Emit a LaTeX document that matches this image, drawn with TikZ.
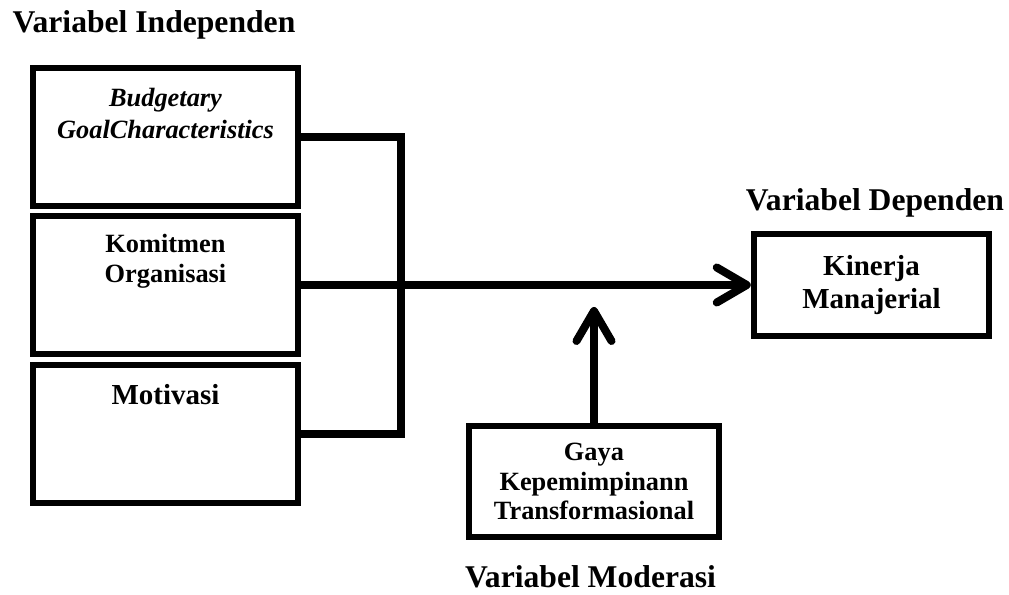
\documentclass[tikz,border=0pt]{standalone}
\usepackage{fontspec}
\setmainfont{Liberation Serif}
\usetikzlibrary{arrows.meta,positioning}

\begin{document}
\begin{tikzpicture}[
    kotak/.style={draw, line width=1.3mm, minimum width=5.3cm, minimum height=2.76cm, inner sep=0pt},
    isi/.style={align=center, inner sep=0pt, font=\fontsize{15}{17}\selectfont\bfseries},
    judul/.style={anchor=base, inner sep=0pt, font=\fontsize{18}{21}\selectfont\bfseries},
    kurung/.style={line width=1.6mm},
    panah/.style={line width=1.6mm, -{Straight Barb[length=6mm,width=7mm,round]}}
]
    \useasboundingbox (0,0) rectangle (20.18,11.9);

    % variabel independen
    \node[judul] (judulX) at (3.08,11.24) {Variabel Independen};
    \node[kotak] (x1) at (3.31,9.16) {};
    \node[kotak] (x2) at (3.31,6.2) {};
    \node[kotak] (x3) at (3.31,3.22) {};
    \node[isi, font=\fontsize{15}{18.2}\selectfont\bfseries\itshape, below=0.47cm of x1.north] (tx1) {Budgetary\\GoalCharacteristics};
    \node[isi, below=0.42cm of x2.north] (tx2) {Komitmen\\Organisasi};
    \node[isi, font=\fontsize{16.5}{19}\selectfont\bfseries, below=0.44cm of x3.north] (tx3) {Motivasi};

    % kurung
    \coordinate (kurung) at (8.02,6.2);
    \draw[kurung] (x1.east) -- (x1.east -| kurung) -- (x3.east -| kurung) -- (x3.east);

    % variabel dependen
    \node[kotak, minimum width=4.7cm, minimum height=2.04cm, align=center,
        font=\fontsize{16.5}{18.8}\selectfont\bfseries] (y) at (17.43,6.2) {Kinerja\\Manajerial};
    \node[judul] (judulY) at (17.5,7.68) {Variabel Dependen};

    % variabel moderasi
    \node[kotak, minimum width=5cm, minimum height=2.22cm, align=center,
        font=\fontsize{15}{17}\selectfont\bfseries] (z) at (11.88,2.27) {Gaya\\Kepemimpinann\\Transformasional};
    \node[judul] (judulZ) at (11.81,0.14) {Variabel Moderasi};
    \coordinate (ujung) at (11.88,5.76);

    % panah
    \draw[panah] (x2) -- (y);
    \draw[panah] (z) -- (ujung);

\end{tikzpicture}
\end{document}
